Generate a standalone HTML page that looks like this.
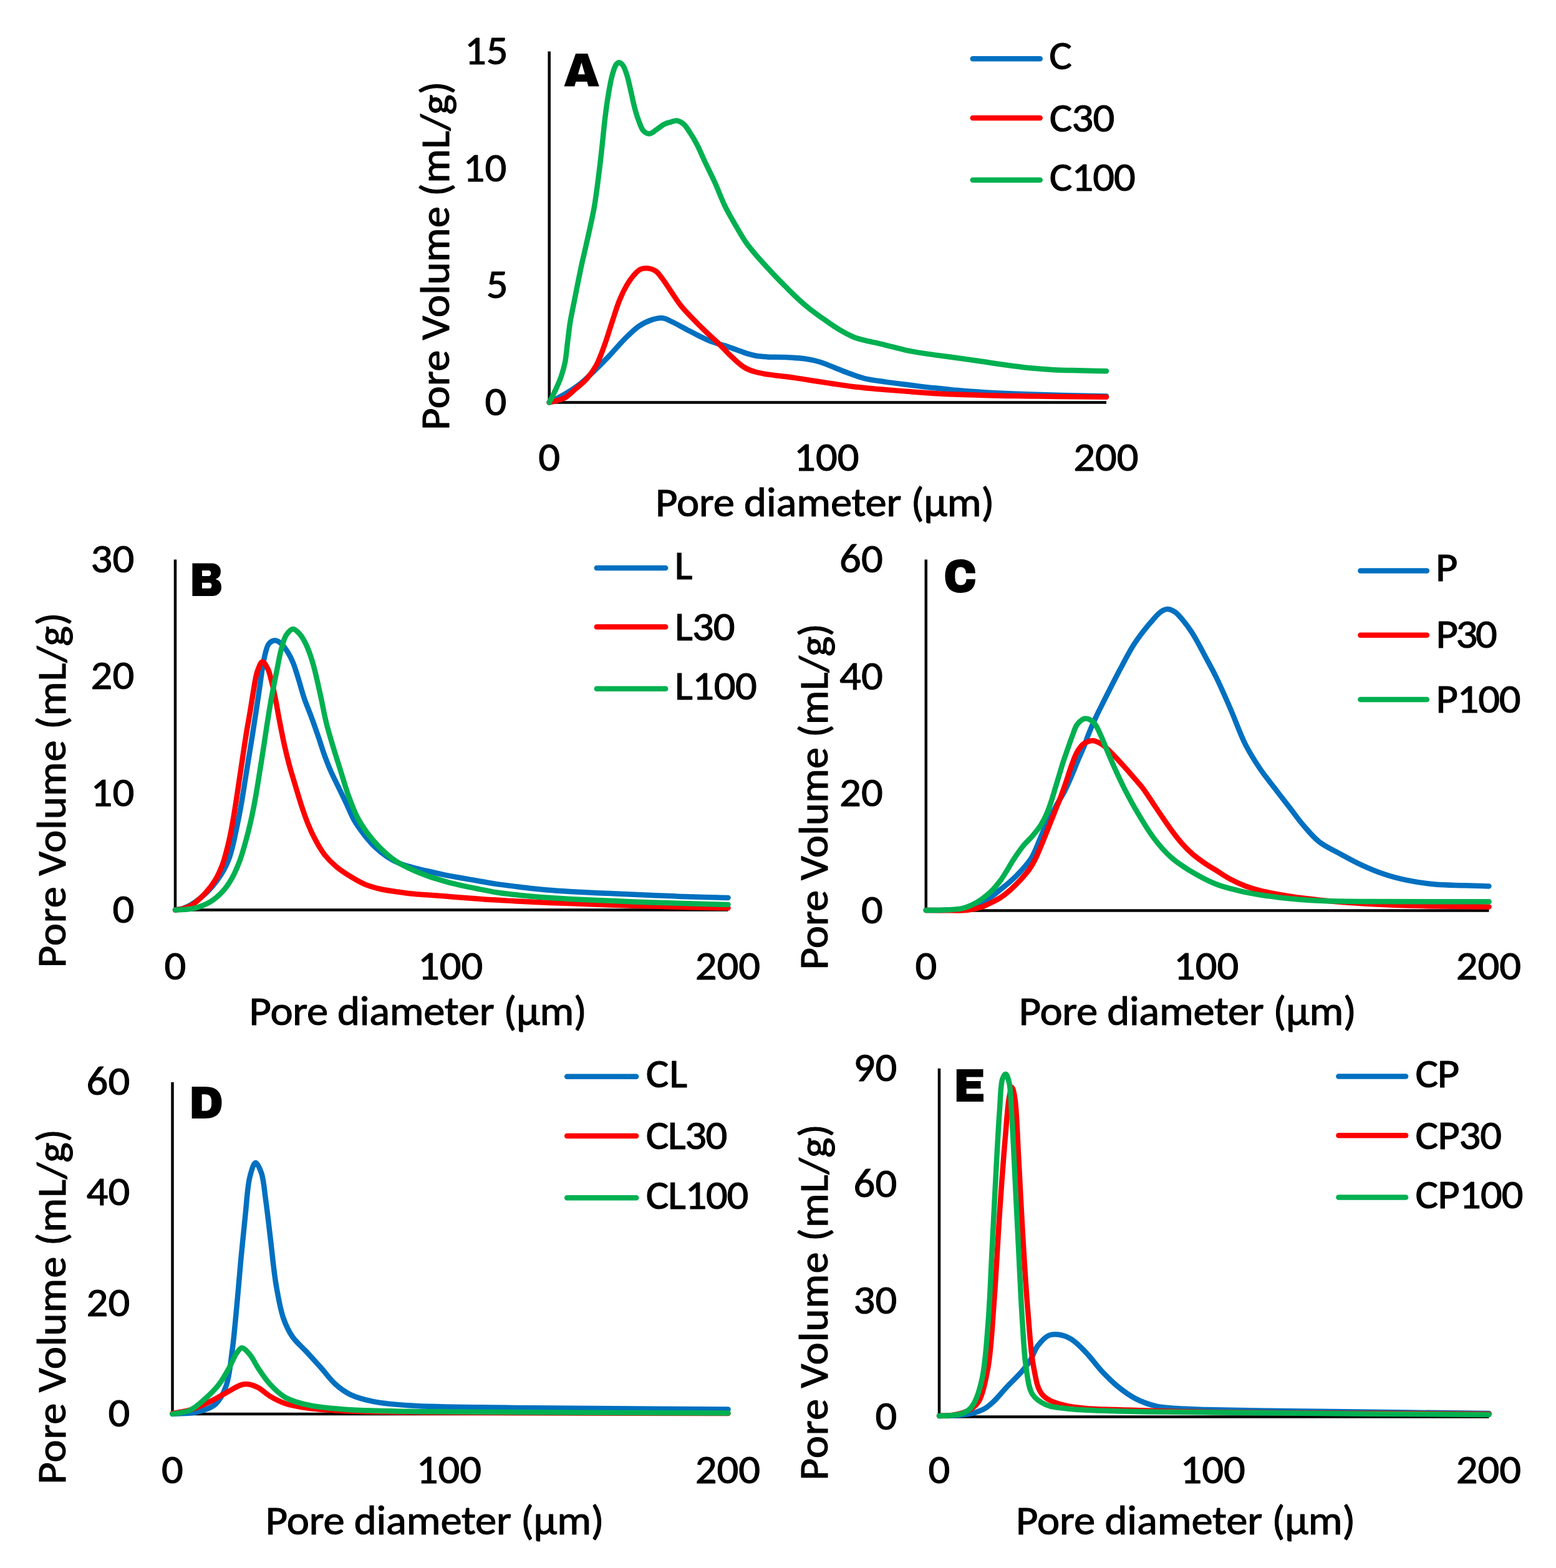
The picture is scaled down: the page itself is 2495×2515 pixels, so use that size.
<!DOCTYPE html>
<html><head><meta charset="utf-8"><title>Pore volume distributions</title>
<style>
html,body{margin:0;padding:0;background:#fff;}
body{width:2495px;height:2515px;overflow:hidden;}
svg{display:block;}
.t text{font-family:Carlito, 'Liberation Sans', sans-serif;fill:#000;stroke:#000;stroke-width:1.1px;stroke-linejoin:round;}
.lab{font-family:'Archivo Black', 'Liberation Sans', sans-serif;fill:#000;}
</style></head><body>
<svg xmlns="http://www.w3.org/2000/svg" width="2495" height="2515" viewBox="0 0 2495 2515">
<rect width="2495" height="2515" fill="#fff"/>
<g id="pA"><path d="M880.7 82.5 V647.8 M878.5 645.5 H1774" stroke="#000" stroke-width="4.5" fill="none"/><g fill="none" stroke-width="8.5" stroke-linejoin="round" stroke-linecap="round"><path d="M880.7 645.5 C889.2 641 897.9 637 906.1 632 C914.3 627.1 922.1 622 929.8 616 C937.9 609.6 945.5 602 953.2 594.6 C961.1 587 969 579.1 976.7 571 C984.6 562.7 992.2 553.2 1000.2 545.2 C1007.8 537.6 1015.5 529.5 1023.4 524 C1030.1 519.3 1037.1 515.7 1044 513.4 C1050.2 511.3 1056.9 509.6 1062.8 510.2 C1068.3 510.8 1072.8 513.9 1078.4 516.5 C1085.4 519.8 1094.1 524.9 1101.4 528.7 C1108.1 532.2 1114.1 535.4 1120.6 538.6 C1127.4 541.9 1134.3 545.4 1141.3 548.1 C1148.2 550.7 1155.3 552.2 1162.2 554.4 C1169 556.7 1176.1 559.2 1182.3 561.4 C1187.7 563.3 1192.1 565.3 1197.2 566.9 C1202.2 568.4 1207.3 569.8 1212.6 570.8 C1218.1 571.7 1223.3 572 1229.8 572.4 C1238.3 572.9 1249.5 572.7 1259.5 573.1 C1269.6 573.6 1280.5 574 1290 575.3 C1298.6 576.5 1306.4 578.2 1314.3 580.5 C1322.3 582.9 1330 586.5 1337.8 589.5 C1345.6 592.5 1353.3 595.9 1361.2 598.8 C1369.1 601.6 1376.3 604.6 1385.2 606.8 C1395.7 609.4 1408.3 610.8 1420.2 612.6 C1432.7 614.4 1445.8 615.9 1458.6 617.5 C1471.4 619.1 1484.3 620.8 1497.2 622.2 C1510.1 623.6 1522.9 625 1535.8 626.1 C1548.7 627.2 1561.5 628.2 1574.4 629 C1587.3 629.8 1600.1 630.4 1613.1 631 C1626.2 631.5 1638.7 632 1652.7 632.5 C1668.3 633 1684.4 633.5 1702.6 634 C1724.2 634.6 1750.2 635 1774 635.5" stroke="#0070C0"/><path d="M880.7 645.5 C884.2 644.7 887.4 644.2 891.2 643 C895.8 641.7 901.4 640.4 906.3 637.7 C911.8 634.5 916.8 629 922.3 624.3 C928.2 619.3 934.9 614.3 940.4 608.2 C946.2 601.6 951.5 594.3 956.1 586 C961.2 576.7 964.8 565.8 968.9 554.8 C973.3 542.8 977.2 529.2 981.4 516.6 C985.5 504.4 989.4 491 993.8 480.5 C997.3 471.9 1000.9 464.4 1004.9 457.6 C1008.3 451.8 1011.9 446.5 1015.8 442 C1019.3 438.1 1022.7 433.9 1026.8 432 C1030.6 430.2 1035.2 429.9 1039.3 430.4 C1043.5 430.9 1048.1 432.5 1051.8 435.1 C1056.1 438.1 1059.2 443.4 1063 448.2 C1067.2 453.8 1071.2 460.4 1075.6 466.9 C1080.6 474.1 1085.6 482.4 1091.3 489.6 C1097.1 496.9 1103.7 503.6 1110.2 510.4 C1116.8 517.4 1123.9 524.4 1130.9 531.1 C1137.8 537.7 1144.8 543.7 1151.7 550.4 C1158.7 557.2 1165.5 565.1 1172.6 571.6 C1179.3 577.9 1186.2 584.8 1193.1 589 C1198.8 592.5 1204.3 594.4 1210.3 596.3 C1216.6 598.2 1223.4 599.2 1230 600.4 C1236.8 601.5 1243.6 602.1 1250.8 603 C1258.6 604 1267 604.9 1275.3 606.1 C1283.8 607.3 1292 608.9 1301.1 610.3 C1311.4 611.9 1322.6 613.6 1333.7 615.2 C1345.2 616.9 1356.3 618.7 1369 620.2 C1384.2 622 1402.9 623.6 1418.6 625 C1432.6 626.2 1445.4 627.1 1458.6 628.1 C1471.6 629.1 1484.3 630.1 1497.2 630.9 C1510.1 631.7 1522.9 632.3 1535.8 632.8 C1548.7 633.3 1561.5 633.6 1574.4 633.9 C1587.3 634.2 1600.2 634.6 1613.1 634.9 C1626 635.1 1638.5 635.2 1651.7 635.4 C1665.7 635.6 1678.3 635.7 1694.8 635.9 C1717.2 636.1 1747.6 636.5 1774 636.8" stroke="#FF0000"/><path d="M880.7 645.5 C884 638.9 887.4 632.5 890.6 625.8 C893.8 618.8 897.1 611.5 899.7 604.1 C902.3 596.6 904.4 589.4 906.1 581 C908 571 908.8 559 910.2 548.1 C911.6 537.5 912.6 527 914.3 516.5 C916 506 918.3 495.6 920.4 485.2 C922.4 474.8 924.5 464.3 926.6 453.9 C928.7 443.5 930.7 433.3 933 422.8 C935.4 411.9 937.9 402.3 940.6 389.7 C944.3 373.1 949.6 350.4 952.9 332 C955.8 315.1 957.7 299.5 959.7 283.4 C961.8 267.6 963.5 252.1 965.2 236.5 C966.9 221 968.3 205 970.1 190.3 C971.7 176.7 973.5 163.4 975.6 151.2 C977.4 140.4 979.3 129.3 981.7 120.7 C983.6 114 985.4 106.8 988 103.5 C989.4 101.7 991 100.3 992.7 100.3 C994.6 100.3 997.1 102.6 998.9 105 C1001.5 108.4 1003.3 114.5 1005.2 120.3 C1007.6 127.7 1009.4 137.2 1011.5 145.9 C1013.6 154.8 1015.4 164.7 1017.7 173.1 C1019.7 180.5 1021.7 187.4 1024.2 193.7 C1026.4 199.5 1028.4 206.4 1031.8 209.9 C1034.4 212.6 1038 214.7 1041.2 214.6 C1044.7 214.5 1048.4 210.7 1052.1 208.3 C1056.2 205.7 1060.4 201.7 1064.5 199.5 C1068.2 197.7 1072 196.8 1075.6 195.8 C1078.8 194.9 1081.8 193.2 1085 193.5 C1088.6 193.9 1092.6 196.1 1096 198.9 C1100.1 202.3 1103.4 208.2 1106.9 213.5 C1110.8 219.3 1114.4 225.6 1118.1 232.7 C1122.3 241 1126.2 250.8 1130.7 260.3 C1135.6 270.6 1141 281 1146.1 292.3 C1151.8 304.8 1157 319.6 1163.1 331.9 C1168.7 343.2 1174.9 353.6 1180.8 363.6 C1186.2 372.8 1191.3 382 1197 390 C1202 397.1 1207.3 403.1 1212.6 409.4 C1217.7 415.4 1223 421 1228.2 426.8 C1233.4 432.5 1238.6 438.3 1243.9 443.8 C1249.1 449.2 1254.3 454.4 1259.5 459.6 C1264.7 464.8 1269.9 470.1 1275.2 475.1 C1280.3 480 1285.5 484.8 1290.8 489.2 C1296 493.6 1301.2 497.8 1306.5 501.7 C1311.6 505.6 1316.9 509.2 1322.1 512.8 C1327.3 516.5 1332.5 520.2 1337.8 523.6 C1342.9 527 1348.1 530.2 1353.4 533 C1358.6 535.8 1363.7 538.6 1369.1 540.7 C1374.4 542.8 1379.6 544.2 1385.5 545.7 C1392.4 547.5 1400.5 548.8 1408 550.6 C1415.6 552.3 1422.7 554.2 1430.7 556.2 C1439.7 558.4 1449.3 561.2 1459.6 563.2 C1471.3 565.6 1484.6 567.3 1497.2 569.1 C1510 570.9 1522.9 572.4 1535.8 574.2 C1548.7 576 1561.5 577.9 1574.4 579.8 C1587.3 581.7 1600.2 583.8 1613.1 585.5 C1626 587.3 1638.8 589 1651.7 590.3 C1664.6 591.6 1677.4 592.5 1690.3 593.2 C1703.3 593.9 1716.1 594 1729.6 594.3 C1743.9 594.7 1759.2 595 1774 595.3" stroke="#00B050"/></g><g fill="none" stroke-width="8.5" stroke-linecap="round"><path d="M1559.8 94.3 H1667.7" stroke="#0070C0"/><path d="M1559.8 189.2 H1667.7" stroke="#FF0000"/><path d="M1559.8 288.8 H1667.7" stroke="#00B050"/></g><g class="t"><text transform="translate(777.4 665.8) scale(1.040 1)" x="0" y="0" style="font-size:66px;">0</text><text transform="translate(779.7 478.1) scale(1.040 1)" x="0" y="0" style="font-size:66px;">5</text><text transform="translate(742.6 290.5) scale(1.040 1)" x="0" y="0" style="font-size:66px;">10</text><text transform="translate(744.9 102.8) scale(1.040 1)" x="0" y="0" style="font-size:66px;">15</text><text transform="translate(863.3 755) scale(1.040 1)" x="0" y="0" style="font-size:66px;">0</text><text transform="translate(1273.1 755) scale(1.040 1)" x="0" y="0" style="font-size:66px;">100</text><text transform="translate(1721.2 755) scale(1.040 1)" x="0" y="0" style="font-size:66px;">200</text><text transform="translate(1051 828.1) scale(1.040 1)" x="0" y="0" style="font-size:66px;letter-spacing:-0.17px;">Pore diameter (µm)</text><text transform="translate(719.7 686) rotate(-90) translate(-3.9 0) scale(1.040 1)" x="0" y="0" style="font-size:66px;letter-spacing:0.28px">Pore Volume (mL/g)</text><text transform="translate(1682.3 111.3) scale(1.040 1)" x="0" y="0" style="font-size:66px;">C</text><text transform="translate(1682.8 210.7) scale(1.040 1)" x="0" y="0" style="font-size:66px;letter-spacing:-0.84px;">C30</text><text transform="translate(1682.8 305.8) scale(1.040 1)" x="0" y="0" style="font-size:66px;letter-spacing:-0.98px;">C100</text></g><text transform="translate(904.4 138.4) scale(0.981 1)" x="-0.8" y="0" class="lab" style="font-size:75.7px">A</text></g>
<g id="pB"><path d="M281 897.6 V1461.8 M278.8 1459.5 H1167.5" stroke="#000" stroke-width="4.5" fill="none"/><g fill="none" stroke-width="8.5" stroke-linejoin="round" stroke-linecap="round"><path d="M281 1459.5 C285 1458.7 289 1458.5 293.1 1457.2 C297.7 1455.6 302.1 1453.7 307.2 1450.5 C314.6 1445.9 324.8 1438 332 1431 C338.6 1424.6 344.4 1417.1 349.3 1410.5 C353.4 1404.8 356.7 1399.6 359.7 1394 C362.6 1388.6 365 1383.4 367.1 1377.6 C369.5 1371.3 371.1 1364.7 373 1357.6 C375 1349.6 376.7 1341.4 378.6 1332.1 C381 1320.7 383.8 1307 386.1 1294.2 C388.5 1281.2 390.5 1267.9 392.6 1254.7 C394.7 1241.5 396.8 1228.3 398.9 1215.2 C401 1202.3 403.1 1188.9 405.1 1176.7 C406.8 1165.4 408.4 1155.6 410.1 1144.5 C411.9 1132.4 413.7 1120.3 415.7 1106.9 C418.1 1091.6 420.2 1071.1 423.3 1057.6 C425.6 1047.7 427 1037.6 431.1 1032.6 C433.8 1029.3 437.8 1027.2 441.1 1027.2 C444.5 1027.2 448.1 1029.9 451.2 1032.6 C455.1 1035.9 458.7 1041.7 461.8 1046.8 C464.9 1051.8 467.4 1056.9 469.9 1062.9 C472.8 1069.9 475.1 1078 477.8 1086.5 C481 1096.6 484 1108.8 487.7 1119.6 C491.3 1130.3 495.8 1140.6 499.6 1151 C503.4 1161.3 507.1 1171.8 510.5 1181.9 C513.9 1191.6 516.7 1201.4 520.1 1210.7 C523.3 1219.5 526.5 1227.9 530.2 1236.4 C534 1245 538.3 1253.4 542.4 1261.9 C546.5 1270.4 550.6 1278.7 554.7 1287.4 C559 1296.4 562.7 1306.5 567.6 1315.1 C572.4 1323.4 577.9 1331 583.5 1338.3 C589.1 1345.4 594.8 1352.3 601.2 1358.4 C607.3 1364.3 614.2 1369.9 621 1374.4 C627.2 1378.5 633.5 1381.8 640.1 1384.6 C646.7 1387.4 653.4 1388.9 660.7 1391 C668.9 1393.3 678.2 1395.5 687.1 1397.5 C696.1 1399.7 705.2 1401.7 714.3 1403.6 C723.3 1405.4 732.4 1406.9 741.4 1408.5 C750.4 1410.1 759.5 1411.6 768.5 1413.2 C777.5 1414.8 786.6 1416.5 795.6 1417.9 C804.7 1419.2 813.7 1420.3 822.8 1421.4 C831.8 1422.5 840.8 1423.7 849.9 1424.7 C859.1 1425.7 867.8 1426.6 877.6 1427.5 C888.8 1428.4 899.8 1429.1 913.5 1429.9 C931.8 1431 956.1 1432.1 977.8 1433.1 C1000.1 1434.1 1023.1 1435 1045.6 1435.9 C1067.9 1436.8 1090.9 1437.9 1112 1438.5 C1131.4 1439.2 1149 1439.5 1167.5 1440" stroke="#0070C0"/><path d="M281 1459.5 C285 1458.9 289 1458.8 293.1 1457.7 C297.6 1456.5 302 1455 306.9 1452 C313.7 1447.8 322.3 1439.9 328.7 1433.1 C334.8 1426.6 340.2 1419.7 344.7 1412.3 C349.3 1404.9 352.8 1396.8 356 1388.6 C359.3 1380.1 361.7 1371 364 1361.8 C366.5 1352.5 368.5 1343 370.4 1333.3 C372.4 1323.1 374.2 1312.5 375.9 1302.1 C377.7 1291.6 379.2 1281 380.8 1270.5 C382.4 1260 383.9 1249.4 385.5 1238.9 C387.1 1228.4 388.6 1217.9 390.2 1207.4 C391.8 1197 393.3 1186.4 395 1176.2 C396.6 1166.2 398.4 1157.2 400.1 1146.8 C402.1 1135.2 404.1 1121.5 406.2 1109.5 C408.2 1098.4 409.4 1086.3 412.4 1077.6 C414.7 1071.1 417.8 1061.8 420.8 1061.5 C423.5 1061.3 427.1 1068.3 429.5 1073 C432.4 1078.7 433.7 1086.4 435.7 1093.9 C437.9 1102.3 439.7 1111.3 441.7 1121.2 C444 1132.7 446.2 1146.2 448.7 1158.8 C451.1 1171.4 453.7 1184.7 456.4 1196.8 C458.9 1207.9 461.4 1218.1 464.3 1228.6 C467.1 1239.1 470.4 1249.3 473.5 1259.7 C476.6 1270 479.6 1280.4 482.9 1290.7 C486.3 1301 489.8 1311.6 493.8 1321.3 C497.5 1330.6 501.6 1339.5 506.2 1347.9 C510.5 1356 515 1363.9 520.5 1371 C525.9 1377.9 532.2 1384.1 538.9 1389.7 C545.5 1395.4 552.8 1400.2 560.4 1404.9 C568.2 1409.7 576.6 1414.7 585 1418.3 C593.2 1421.7 601.7 1424 610.1 1426 C618.4 1428 626.7 1428.9 635.1 1430.2 C643.4 1431.4 651.7 1432.6 660.2 1433.5 C669 1434.4 678.1 1434.9 687.1 1435.6 C696.1 1436.3 705.2 1436.9 714.3 1437.6 C723.3 1438.3 732.4 1439 741.4 1439.7 C750.4 1440.4 759.5 1441 768.5 1441.7 C777.5 1442.4 786.6 1443.1 795.6 1443.6 C804.7 1444.2 813.7 1444.6 822.8 1445.1 C831.8 1445.6 840.8 1446 849.9 1446.5 C859.1 1446.9 867.8 1447.4 877.6 1447.8 C888.8 1448.2 899.8 1448.6 913.5 1449.1 C931.8 1449.7 956.1 1450.7 977.8 1451.5 C1000.1 1452.2 1023.1 1452.9 1045.6 1453.6 C1067.9 1454.2 1090.9 1454.9 1112 1455.4 C1131.4 1455.9 1149 1456.1 1167.5 1456.5" stroke="#FF0000"/><path d="M281 1459.5 C286.4 1459.3 291.6 1459.4 297.1 1458.8 C302.8 1458.3 308.4 1457.8 314.4 1456.1 C321.5 1454 330 1450.8 336.9 1446.7 C343.9 1442.5 350.3 1437 356 1430.9 C362 1424.5 367.2 1416.8 371.8 1408.8 C376.7 1400.2 380.7 1390.4 384.4 1380.7 C388.2 1370.6 391.1 1360 394 1349.4 C397 1338.8 399.6 1328.4 402.1 1317.1 C404.9 1304.8 407.5 1291.4 409.8 1278.4 C412.2 1265.3 414.2 1252 416.3 1238.9 C418.4 1226 420.5 1212.7 422.4 1200.3 C424.2 1188.7 425.7 1178.6 427.5 1166.7 C429.6 1153.3 431.9 1138.4 434.4 1123.9 C437.1 1108.9 440.4 1092.8 443.3 1078.4 C446 1065.2 448.2 1051.5 451.2 1040.7 C453.6 1032.2 455.3 1024.1 459 1018.6 C462 1014.2 466.3 1009.1 470 1009 C473.5 1008.9 477.5 1013.6 480.7 1017.1 C484.4 1021.2 487.2 1026.4 490.2 1032.5 C494.2 1040.5 497.7 1050.5 501.1 1061.8 C505.6 1076.6 509.8 1097.1 513.6 1113.9 C517.1 1129.5 519.6 1144.8 523.2 1159.2 C526.5 1172.6 530.3 1184.8 534 1197.4 C537.8 1209.9 541.7 1221.9 545.6 1234.5 C549.7 1247.6 553.6 1261.7 558.2 1274.6 C562.7 1286.9 567.3 1299.7 572.7 1310.3 C577.4 1319.5 582.3 1326.8 588 1334.7 C594.1 1343 600.8 1351.1 608.4 1358.7 C616.2 1366.6 625.4 1374.8 634.5 1381 C642.8 1386.6 651.4 1390.6 660.2 1394.7 C668.9 1398.8 678 1402.3 687.1 1405.5 C696.1 1408.7 705.2 1411.3 714.3 1413.8 C723.3 1416.3 732.3 1418.5 741.4 1420.6 C750.4 1422.6 759.5 1424.3 768.5 1426.1 C777.5 1427.9 786.5 1429.8 795.6 1431.3 C804.6 1432.8 813.7 1433.8 822.8 1434.8 C831.8 1435.9 840.8 1436.7 849.9 1437.5 C859.1 1438.4 867.8 1439 877.6 1439.7 C888.8 1440.5 899.8 1441.3 913.5 1442 C931.8 1443 956.1 1443.9 977.8 1444.8 C1000.1 1445.7 1023.1 1446.7 1045.6 1447.4 C1067.9 1448.2 1090.9 1448.8 1112 1449.4 C1131.4 1450 1149 1450.4 1167.5 1450.9" stroke="#00B050"/></g><g fill="none" stroke-width="8.5" stroke-linecap="round"><path d="M956.8 911 H1067.2" stroke="#0070C0"/><path d="M956.8 1005.4 H1067.2" stroke="#FF0000"/><path d="M956.8 1104.7 H1067.2" stroke="#00B050"/></g><g class="t"><text transform="translate(180.4 1479.8) scale(1.040 1)" x="0" y="0" style="font-size:66px;">0</text><text transform="translate(145.6 1292.5) scale(1.040 1)" x="0" y="0" style="font-size:66px;">10</text><text transform="translate(145.6 1105.2) scale(1.040 1)" x="0" y="0" style="font-size:66px;">20</text><text transform="translate(145.6 917.9) scale(1.040 1)" x="0" y="0" style="font-size:66px;">30</text><text transform="translate(263.6 1570.5) scale(1.040 1)" x="0" y="0" style="font-size:66px;">0</text><text transform="translate(670 1570.5) scale(1.040 1)" x="0" y="0" style="font-size:66px;">100</text><text transform="translate(1114.7 1570.5) scale(1.040 1)" x="0" y="0" style="font-size:66px;">200</text><text transform="translate(399.6 1644.2) scale(1.040 1)" x="0" y="0" style="font-size:66px;letter-spacing:-0.29px;">Pore diameter (µm)</text><text transform="translate(104.7 1548.4) rotate(-90) translate(-3.9 0) scale(1.040 1)" x="0" y="0" style="font-size:66px;letter-spacing:0.87px">Pore Volume (mL/g)</text><text transform="translate(1081.4 928.7) scale(1.040 1)" x="0" y="0" style="font-size:66px;">L</text><text transform="translate(1081.9 1026.8) scale(1.040 1)" x="0" y="0" style="font-size:66px;letter-spacing:-0.83px;">L30</text><text transform="translate(1081.9 1121.6) scale(1.040 1)" x="0" y="0" style="font-size:66px;letter-spacing:-0.42px;">L100</text></g><text transform="translate(308.5 955.6) scale(0.932 1)" x="-5.6" y="0" class="lab" style="font-size:75.4px">B</text></g>
<g id="pC"><path d="M1484.8 897.6 V1462.8 M1482.5 1460.5 H2387.5" stroke="#000" stroke-width="4.5" fill="none"/><g fill="none" stroke-width="8.5" stroke-linejoin="round" stroke-linecap="round"><path d="M1484.8 1460 C1493.2 1460 1501.6 1460.1 1510 1459.9 C1518.3 1459.7 1526.8 1459.6 1534.8 1458.7 C1542.6 1457.9 1550.6 1456.8 1557.5 1455 C1563.5 1453.3 1568.6 1451.2 1573.9 1448.5 C1579.3 1445.7 1584.4 1442 1589.5 1438.3 C1594.8 1434.5 1600 1430.2 1605.2 1426 C1610.4 1421.8 1615.7 1417.8 1620.8 1413.2 C1626.2 1408.3 1631.4 1403.3 1636.7 1397.4 C1642.6 1390.8 1648.9 1384.3 1654.4 1375.2 C1661.5 1363.4 1667.1 1345.1 1673.7 1331.2 C1679.8 1318.4 1686.2 1306 1692.2 1294.9 C1697.4 1285.2 1703 1277 1707.6 1268 C1712 1259.4 1715.6 1250.7 1719.3 1242.1 C1722.9 1233.6 1726.3 1224.7 1729.7 1216.7 C1732.8 1209.5 1736.1 1202.6 1738.7 1196 C1741 1190.1 1742.4 1185.2 1744.9 1179 C1747.9 1171.3 1751.6 1162.4 1755.7 1153.6 C1760.1 1143.8 1765.6 1133.2 1770.7 1123 C1775.8 1112.7 1781.1 1102.3 1786.3 1092.2 C1791.4 1082.2 1796.6 1072.3 1801.8 1062.7 C1806.9 1053.3 1811.9 1043.7 1817.3 1035.1 C1822.3 1027.2 1827.6 1020 1832.9 1013.1 C1837.9 1006.6 1843.1 1000.3 1848.1 994.8 C1852.4 990 1856.4 984.7 1860.8 981.7 C1864.3 979.3 1867.9 977.2 1871.7 977.1 C1875.7 977 1880.2 979.2 1884.1 981.7 C1888.6 984.7 1892.5 989.9 1896.7 994.8 C1901.3 1000.3 1906.1 1006.7 1910.3 1013.1 C1914.7 1019.7 1918.7 1027.2 1922.6 1034.1 C1926.2 1040.7 1929 1046.2 1932.9 1053.5 C1938 1063.2 1944.5 1074.5 1950.5 1087 C1957.9 1102.1 1965.9 1120.6 1973.5 1138.1 C1981.4 1156.3 1988.5 1177.4 1997 1194.1 C2004.3 1208.5 2012.3 1220.9 2020.4 1233 C2028 1244.2 2036 1253.9 2043.9 1264.2 C2051.7 1274.4 2059.6 1284.6 2067.4 1294.7 C2075.2 1304.8 2082.6 1315.4 2090.8 1324.8 C2098.7 1333.9 2106 1343 2115.5 1350.4 C2125.4 1358.2 2138 1363.6 2149.5 1369.9 C2161.1 1376.2 2172.8 1382.7 2184.7 1388.1 C2196.3 1393.5 2208 1398.3 2220 1402.2 C2231.9 1406.2 2243.5 1409.2 2256.4 1411.9 C2270.7 1414.8 2286.8 1417.2 2302.1 1418.6 C2317.4 1420 2333.5 1419.8 2348.2 1420.3 C2361.9 1420.8 2374.4 1421.1 2387.5 1421.5" stroke="#0070C0"/><path d="M1484.8 1460 C1495.1 1460.1 1505.1 1460.3 1515.8 1460.3 C1527.2 1460.2 1540.9 1460.9 1551.3 1459.7 C1559.6 1458.8 1566.7 1457.1 1573.4 1455 C1579.3 1453 1584.2 1450.4 1589.5 1447.8 C1594.8 1445.1 1600.1 1442.5 1605.2 1439.1 C1610.6 1435.5 1615.7 1431.2 1620.8 1426.7 C1626.2 1421.9 1631.5 1416.6 1636.5 1411.1 C1641.6 1405.4 1647.2 1399 1651.3 1393.2 C1654.7 1388.3 1656.9 1384.3 1659.6 1378.9 C1663 1372.2 1666.4 1363.7 1669.7 1355.8 C1673.2 1347.5 1676.6 1338.7 1680.1 1330.1 C1683.5 1321.5 1687 1312.9 1690.4 1304.3 C1693.8 1295.7 1697.4 1287.1 1700.7 1278.4 C1703.9 1269.8 1707 1261.1 1710 1252.5 C1712.9 1244 1715.4 1235.1 1718.4 1227.1 C1721.1 1219.9 1723.5 1212.6 1726.9 1206.7 C1729.8 1201.6 1732.7 1196.6 1737 1193.5 C1741.3 1190.4 1747.4 1187.8 1752.5 1188 C1757.6 1188.2 1762.8 1191.4 1767.6 1194.5 C1773.1 1198.1 1778.1 1203.7 1783.5 1209 C1789.5 1215 1795.8 1222.1 1802 1228.9 C1808.3 1235.9 1815.4 1244.2 1820.9 1250.6 C1825.1 1255.5 1828.1 1258.5 1832.1 1263.8 C1837.4 1270.8 1844 1281.1 1849.5 1289.3 C1854.6 1296.9 1859.2 1303.9 1864.2 1311.2 C1869.3 1318.7 1874.6 1326.5 1879.9 1333.6 C1884.9 1340.3 1889.8 1346.8 1895.2 1352.8 C1900.5 1358.8 1906.2 1364.5 1912.1 1369.7 C1917.9 1374.7 1923.9 1379 1930.2 1383.4 C1936.6 1387.9 1943.4 1391.9 1950.3 1396.2 C1957.8 1400.9 1965.6 1406.4 1973.5 1410.5 C1981.2 1414.6 1989.1 1418.2 1997 1421.2 C2004.6 1424 2012.3 1426.3 2020.1 1428.3 C2027.9 1430.3 2035.9 1431.9 2043.8 1433.4 C2051.6 1434.9 2059.1 1436.2 2067.1 1437.4 C2075.5 1438.7 2083.2 1439.8 2093.1 1441 C2106.5 1442.7 2123 1444.6 2140.1 1446.1 C2160.7 1447.9 2185 1449.4 2208.2 1450.6 C2232.4 1451.8 2255.6 1452.5 2282.4 1453.1 C2314.4 1453.8 2352.5 1454 2387.5 1454.4" stroke="#FF0000"/><path d="M1484.8 1460 C1490 1460 1495 1460 1500.5 1459.9 C1506.7 1459.8 1513.5 1459.6 1520.3 1459.2 C1527.3 1458.8 1535.3 1458.8 1541.9 1457.4 C1547.8 1456.1 1552.9 1454.2 1558.2 1451.7 C1563.6 1449.2 1568.8 1446 1573.9 1442.4 C1579.2 1438.6 1584.6 1434.5 1589.5 1429.6 C1594.9 1424.3 1600.2 1417.6 1604.7 1411.6 C1608.8 1406.1 1612 1400.4 1615.4 1394.9 C1618.7 1389.6 1621.2 1384.7 1624.9 1379.1 C1629.4 1372.2 1635.2 1363.5 1640.6 1356.8 C1645.6 1350.7 1651.2 1346 1656 1340.3 C1660.7 1334.7 1665.5 1328.9 1669.3 1322.8 C1673 1316.8 1676 1310.6 1678.8 1304.1 C1681.7 1297.5 1683.9 1290.5 1686.2 1283.6 C1688.5 1276.7 1690.4 1269.7 1692.5 1262.8 C1694.6 1255.9 1696.6 1249 1698.7 1242.1 C1700.8 1235.2 1702.8 1228.3 1705 1221.4 C1707.3 1214.5 1709.8 1207.6 1712.2 1200.7 C1714.6 1193.9 1716.9 1186.9 1719.5 1180.3 C1721.9 1173.9 1723.6 1166.7 1727.3 1161.9 C1730.6 1157.7 1735.3 1153 1739.7 1152.5 C1744.1 1152 1749.8 1155.2 1753.7 1158.8 C1758.5 1163.2 1761.1 1171.3 1764.7 1178.6 C1768.9 1187.4 1772.8 1198.4 1777 1208.1 C1781 1217.5 1785.1 1226.9 1789.2 1236 C1793.2 1244.8 1796.6 1252.3 1801.4 1261.8 C1807.5 1273.9 1815.3 1288.7 1823.3 1302.2 C1831.6 1316.3 1840.7 1331.9 1850.3 1344.5 C1858.9 1355.9 1867.9 1366.3 1877.7 1375 C1886.8 1383.2 1896 1389.1 1906.8 1395.8 C1919.4 1403.4 1935.2 1412.2 1949 1417.7 C1961.3 1422.7 1973.1 1425.3 1985.2 1428.3 C1997.2 1431.2 2008.7 1433.4 2021.6 1435.5 C2035.9 1437.8 2051.8 1439.7 2067.4 1441.3 C2083.5 1442.8 2098.2 1444 2116.7 1444.8 C2140.4 1445.8 2165.2 1445.8 2197.9 1446.1 C2247.9 1446.5 2324.3 1446.2 2387.5 1446.2" stroke="#00B050"/></g><g fill="none" stroke-width="8.5" stroke-linecap="round"><path d="M2181.4 915.4 H2287.9" stroke="#0070C0"/><path d="M2181.4 1018.7 H2287.9" stroke="#FF0000"/><path d="M2181.4 1122 H2287.9" stroke="#00B050"/></g><g class="t"><text transform="translate(1380.9 1480.8) scale(1.040 1)" x="0" y="0" style="font-size:66px;">0</text><text transform="translate(1346.1 1293.2) scale(1.040 1)" x="0" y="0" style="font-size:66px;">20</text><text transform="translate(1346.1 1105.5) scale(1.040 1)" x="0" y="0" style="font-size:66px;">40</text><text transform="translate(1346.1 917.9) scale(1.040 1)" x="0" y="0" style="font-size:66px;">60</text><text transform="translate(1467.4 1570.8) scale(1.040 1)" x="0" y="0" style="font-size:66px;">0</text><text transform="translate(1881.9 1570.8) scale(1.040 1)" x="0" y="0" style="font-size:66px;">100</text><text transform="translate(2334.7 1570.8) scale(1.040 1)" x="0" y="0" style="font-size:66px;">200</text><text transform="translate(1633.7 1644.2) scale(1.040 1)" x="0" y="0" style="font-size:66px;letter-spacing:-0.29px;">Pore diameter (µm)</text><text transform="translate(1326.8 1551.5) rotate(-90) translate(-3.9 0) scale(1.040 1)" x="0" y="0" style="font-size:66px;letter-spacing:0.06px">Pore Volume (mL/g)</text><text transform="translate(2301.9 931.8) scale(1.040 1)" x="0" y="0" style="font-size:66px;">P</text><text transform="translate(2302.4 1039.4) scale(1.040 1)" x="0" y="0" style="font-size:66px;letter-spacing:-3.24px;">P30</text><text transform="translate(2302.4 1142.7) scale(1.040 1)" x="0" y="0" style="font-size:66px;letter-spacing:-1.19px;">P100</text></g><text transform="translate(1515.4 950.3) scale(0.935 1)" x="-3.4" y="0" class="lab" style="font-size:75.4px">C</text></g>
<g id="pD"><path d="M276.5 1735.7 V2270.2 M274.2 2268 H1167.5" stroke="#000" stroke-width="4.5" fill="none"/><g fill="none" stroke-width="8.5" stroke-linejoin="round" stroke-linecap="round"><path d="M276.5 2268 C289.5 2266.9 303.7 2267.7 315.6 2264.8 C326.5 2262.1 337.7 2259.2 345.5 2252.4 C353.5 2245.4 358.2 2234.9 362.5 2223.1 C368.1 2207.7 369.5 2186.5 372.3 2166.7 C375.3 2144.7 377.2 2120.8 379.5 2096.8 C382 2071.2 384.1 2043.2 386.5 2017.6 C388.8 1993.5 391.1 1970 393.5 1947.7 C395.7 1927 396.7 1903.3 400.5 1888.2 C403 1878.5 406.4 1865.2 409.8 1865 C412.7 1864.8 416.6 1874.3 419.1 1881.3 C422.9 1892.1 423.9 1909.2 426.1 1924.8 C428.7 1943 430.8 1962.8 433.3 1983.7 C436.2 2007.6 438.7 2037 442.6 2060.2 C446 2079.8 449.1 2099 454.3 2114 C458.4 2125.8 462.7 2135 468.9 2144 C475.1 2153 483.8 2159.9 491.3 2168 C499 2176.4 506.9 2185.1 514.6 2193.7 C522.4 2202.5 529.5 2212.8 537.9 2220.2 C545.6 2227.1 553 2232.6 562.4 2237.1 C572.8 2242.1 584.4 2245.1 598.1 2247.8 C615.7 2251.4 634.2 2252.9 659.6 2254.5 C700.8 2257.2 757.6 2257 821.8 2257.9 C915.4 2259.3 1052.2 2259.7 1167.5 2260.6" stroke="#0070C0"/><path d="M276.5 2267 C286.2 2265.1 295.7 2264.2 305.6 2261.2 C316.6 2257.8 328.7 2252 339.2 2246.9 C349 2242.1 358.5 2235.9 367 2231.4 C374 2227.6 380.7 2223.1 386.5 2221.4 C390.7 2220.2 394 2219.8 398.1 2220.3 C403.2 2220.9 409 2223.2 414.5 2226.1 C420.9 2229.4 426.6 2235.8 433.6 2239.9 C440.9 2244.2 448.5 2248.2 457.6 2251.2 C468.2 2254.8 480 2256.6 493.6 2258.5 C511.1 2260.9 529.6 2262 553.8 2263.2 C590.4 2264.9 631.9 2265 691.7 2265.6 C802.7 2266.7 1008.9 2266.5 1167.5 2267" stroke="#FF0000"/><path d="M276.5 2268 C285.8 2266 295.9 2265.9 304.5 2262 C313.2 2258 320.6 2250.9 328.2 2244.2 C336.1 2237.3 344.2 2229.4 350.8 2220.9 C357.3 2212.6 362.5 2202.8 367.4 2194 C371.9 2185.9 375.4 2175.8 379.5 2170.2 C382.2 2166.5 384.6 2162.2 387.7 2162 C391.4 2161.8 396.5 2167.9 400.5 2172.5 C405.7 2178.5 409.6 2188.2 415 2196 C420.6 2204.3 426.5 2213.4 433.6 2220.9 C440.7 2228.5 448.2 2236.1 457.6 2241.5 C467.9 2247.3 479.9 2250.5 493.6 2253.5 C511 2257.4 529.6 2258.9 553.8 2260.7 C590.3 2263.3 631.9 2263.4 691.7 2264.3 C802.7 2266.1 1008.9 2265.8 1167.5 2266.5" stroke="#00B050"/></g><g fill="none" stroke-width="8.5" stroke-linecap="round"><path d="M909.2 1726.7 H1020.2" stroke="#0070C0"/><path d="M909.2 1821.9 H1020.2" stroke="#FF0000"/><path d="M909.2 1921.2 H1020.2" stroke="#00B050"/></g><g class="t"><text transform="translate(173.4 2288.3) scale(1.040 1)" x="0" y="0" style="font-size:66px;">0</text><text transform="translate(138.6 2110.9) scale(1.040 1)" x="0" y="0" style="font-size:66px;">20</text><text transform="translate(138.6 1933.4) scale(1.040 1)" x="0" y="0" style="font-size:66px;">40</text><text transform="translate(138.6 1756) scale(1.040 1)" x="0" y="0" style="font-size:66px;">60</text><text transform="translate(259.1 2379) scale(1.040 1)" x="0" y="0" style="font-size:66px;">0</text><text transform="translate(667.7 2379) scale(1.040 1)" x="0" y="0" style="font-size:66px;">100</text><text transform="translate(1114.7 2379) scale(1.040 1)" x="0" y="0" style="font-size:66px;">200</text><text transform="translate(425.8 2461) scale(1.040 1)" x="0" y="0" style="font-size:66px;letter-spacing:-0.20px;">Pore diameter (µm)</text><text transform="translate(104.7 2376.8) rotate(-90) translate(-3.9 0) scale(1.040 1)" x="0" y="0" style="font-size:66px;letter-spacing:0.87px">Pore Volume (mL/g)</text><text transform="translate(1035.7 1744) scale(1.040 1)" x="0" y="0" style="font-size:66px;letter-spacing:0.89px;">CL</text><text transform="translate(1035.7 1843.2) scale(1.040 1)" x="0" y="0" style="font-size:66px;letter-spacing:-1.45px;">CL30</text><text transform="translate(1035.7 1939.2) scale(1.040 1)" x="0" y="0" style="font-size:66px;letter-spacing:-1.23px;">CL100</text></g><text transform="translate(307.6 1793.9) scale(0.986 1)" x="-5.5" y="0" class="lab" style="font-size:73.7px">D</text></g>
<g id="pE"><path d="M1506 1713.8 V2274.8 M1503.8 2272.5 H2387.5" stroke="#000" stroke-width="4.5" fill="none"/><g fill="none" stroke-width="8.5" stroke-linejoin="round" stroke-linecap="round"><path d="M1506 2271 C1514.2 2270.8 1522.2 2271.1 1530.7 2270.4 C1539.8 2269.7 1550.9 2268.7 1559.2 2266.8 C1565.8 2265.2 1571.3 2263.5 1576.7 2260.6 C1582.2 2257.7 1586.5 2254.1 1591.8 2249.3 C1599 2242.8 1607.2 2232.3 1614.7 2224.4 C1621.8 2216.9 1629.3 2210 1635.6 2202.9 C1641.3 2196.4 1646.5 2190.6 1651.1 2183.5 C1656 2175.9 1658.7 2165.5 1664.1 2158.4 C1669.1 2151.9 1675.6 2144.8 1681.7 2142 C1686.6 2139.8 1691.4 2139.8 1696.8 2140.5 C1703.4 2141.3 1711.1 2143.9 1718 2148.1 C1726.3 2153.1 1734.4 2162.1 1742.2 2170.2 C1750.5 2178.9 1758 2189.9 1766.3 2198.8 C1774.3 2207.3 1781.8 2215.2 1790.8 2222.6 C1800.2 2230.3 1811 2238.4 1821.8 2243.9 C1832 2249.1 1842.7 2252.8 1853.6 2255.3 C1864.5 2257.8 1874.9 2258.2 1887 2259.1 C1901.5 2260.2 1916.2 2260.4 1934.8 2260.9 C1961 2261.6 1987.8 2262.1 2029.5 2262.8 C2110.6 2264.1 2268.2 2265.6 2387.5 2267" stroke="#0070C0"/><path d="M1506 2271 C1512.4 2270.7 1518.8 2271 1525.1 2270.1 C1531.7 2269.2 1538.9 2267.8 1544.7 2265.8 C1549.9 2263.9 1554.5 2262 1558.7 2258.9 C1563 2255.7 1566.7 2252.7 1570.1 2246.7 C1576.1 2235.7 1580.5 2214.8 1584.2 2194.1 C1589.4 2165.2 1591 2126.8 1593.9 2089 C1597.3 2044.9 1599.8 1990.8 1602.9 1945.2 C1605.7 1903.9 1608.8 1860.9 1611.7 1827.2 C1613.9 1801.8 1615.4 1775.3 1618.1 1760.6 C1619.5 1753.1 1621.1 1743.9 1622.6 1743.9 C1624.1 1743.9 1625.9 1752.7 1627.2 1760.6 C1630.3 1779.1 1631.3 1821.3 1633.2 1854.4 C1635.4 1891.9 1637.1 1933.3 1639.6 1974 C1642.1 2016.5 1644.9 2064.8 1648.3 2104.2 C1651.1 2137 1652.7 2170.2 1657.7 2194.4 C1661.2 2211.3 1662.6 2226.5 1671 2236.5 C1678.8 2245.6 1688.8 2249.1 1704.4 2253.4 C1735.1 2261.8 1785.1 2260.3 1848.4 2262.7 C1970.9 2267.2 2207.8 2266.2 2387.5 2268" stroke="#FF0000"/><path d="M1506 2271 C1512.2 2270.8 1518.7 2270.9 1524.6 2270.3 C1529.9 2269.9 1535 2269.5 1539.7 2268.2 C1544 2266.9 1548.1 2265.4 1551.7 2262.8 C1555.4 2260 1558.3 2257 1561.2 2251.8 C1566.5 2242.6 1571.5 2226.5 1575.1 2209.6 C1580.2 2185.7 1582 2152.6 1584.5 2120.9 C1587.4 2084.3 1588.7 2042.2 1590.8 2002.7 C1592.9 1963 1594.8 1921.4 1596.9 1883.2 C1598.8 1848 1600.7 1809.9 1602.8 1781.8 C1604.3 1761.7 1604.2 1739.6 1607.5 1730.3 C1608.9 1726.4 1611 1722.5 1612.6 1722.7 C1614.6 1722.9 1616.6 1730 1618.1 1736.3 C1621 1748.8 1621.2 1772.9 1622.6 1794.4 C1624.4 1821.2 1625.7 1852.6 1627.3 1884.7 C1629.2 1921.4 1631.2 1963.5 1633.2 2002.7 C1635.2 2041.7 1636.9 2084.6 1639.3 2119.3 C1641.2 2147.5 1642.1 2174.5 1645.6 2195.9 C1648.2 2211.7 1649.2 2226.6 1655.6 2236.5 C1660.8 2244.4 1668.3 2249.2 1677.1 2253.1 C1687.9 2257.8 1699.8 2258.2 1717.1 2259.9 C1748.4 2263.1 1790.8 2263.3 1849.9 2264.6 C1968.9 2267.1 2208.3 2267.5 2387.5 2268.9" stroke="#00B050"/></g><g fill="none" stroke-width="8.5" stroke-linecap="round"><path d="M2146.4 1726.4 H2254.1" stroke="#0070C0"/><path d="M2146.4 1821.3 H2254.1" stroke="#FF0000"/><path d="M2146.4 1920.6 H2254.1" stroke="#00B050"/></g><g class="t"><text transform="translate(1403.4 2292.8) scale(1.040 1)" x="0" y="0" style="font-size:66px;">0</text><text transform="translate(1368.6 2106.6) scale(1.040 1)" x="0" y="0" style="font-size:66px;">30</text><text transform="translate(1368.6 1920.3) scale(1.040 1)" x="0" y="0" style="font-size:66px;">60</text><text transform="translate(1368.6 1734.1) scale(1.040 1)" x="0" y="0" style="font-size:66px;">90</text><text transform="translate(1488.6 2379) scale(1.040 1)" x="0" y="0" style="font-size:66px;">0</text><text transform="translate(1892.5 2379) scale(1.040 1)" x="0" y="0" style="font-size:66px;">100</text><text transform="translate(2334.7 2379) scale(1.040 1)" x="0" y="0" style="font-size:66px;">200</text><text transform="translate(1629 2461) scale(1.040 1)" x="0" y="0" style="font-size:66px;letter-spacing:-0.11px;">Pore diameter (µm)</text><text transform="translate(1326.8 2370.5) rotate(-90) translate(-3.9 0) scale(1.040 1)" x="0" y="0" style="font-size:66px;letter-spacing:0.96px">Pore Volume (mL/g)</text><text transform="translate(2269.6 1743.7) scale(1.040 1)" x="0" y="0" style="font-size:66px;letter-spacing:-1.51px;">CP</text><text transform="translate(2269.6 1843) scale(1.040 1)" x="0" y="0" style="font-size:66px;letter-spacing:-1.03px;">CP30</text><text transform="translate(2269.6 1937.9) scale(1.040 1)" x="0" y="0" style="font-size:66px;letter-spacing:-0.82px;">CP100</text></g><text transform="translate(1533.8 1767.3) scale(0.957 1)" x="-5.5" y="0" class="lab" style="font-size:75px">E</text></g>
</svg>
</body></html>
